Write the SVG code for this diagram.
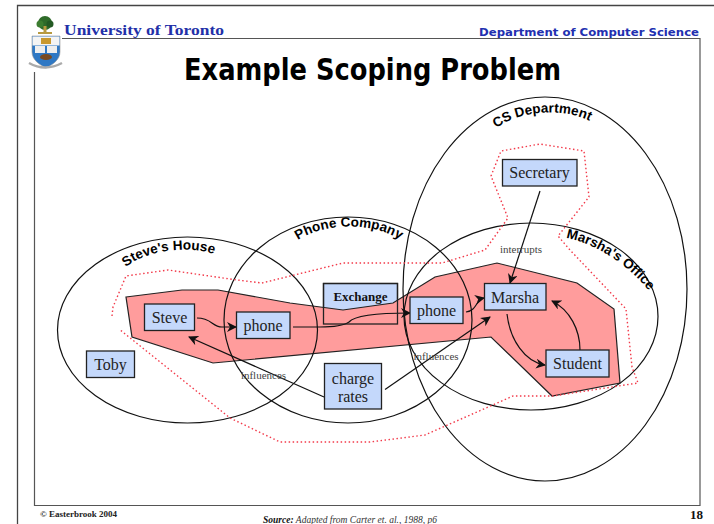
<svg xmlns="http://www.w3.org/2000/svg" xmlns:xlink="http://www.w3.org/1999/xlink" width="714" height="524" viewBox="0 0 714 524">
<style>
.frame{fill:none;stroke:#444;stroke-width:1.3}
.scope{fill:none;stroke:#111;stroke-width:1.2}
.box{fill:#c4d8fb;stroke:#222;stroke-width:1.3}
.label{font-family:"Liberation Serif",serif;font-size:16px;fill:#222;text-anchor:middle}
.small{font-family:"Liberation Serif",serif;font-size:11px;fill:#444;text-anchor:middle}
.arc{font-family:"Liberation Sans",sans-serif;font-size:13.5px;font-weight:bold;fill:#000}
.conn{fill:none;stroke:#111;stroke-width:1.2;marker-end:url(#arrow)}
</style>
<defs>
<marker id="arrow" viewBox="0 0 10 10" refX="9" refY="5" markerUnits="userSpaceOnUse" markerWidth="10" markerHeight="10" orient="auto"><path d="M0 0L10 5L0 10L3 5Z" fill="#111"/></marker>
<path id="p-steve" d="M126 267C150 247 205 243 230 262"/>
<path id="p-phone" d="M298 240C325 222 375 222 400 240"/>
<path id="p-marsha" d="M566 238C595 243 630 265 653 296"/>
<path id="p-cs" d="M496 128C525 108 570 108 595 124"/>
</defs>
<rect width="714" height="524" fill="#fff"/>
<g id="frame">
<path class="frame" d="M17.5 524V5.5H714"/>
<path d="M62 38.5H700V505.5H34.5V72" fill="none" stroke="#555" stroke-width="1.2"/>
</g>
<g id="logo">
<circle cx="45" cy="23" r="7" fill="#2f6b2a"/><circle cx="40" cy="24" r="3.5" fill="#3c7d30"/><circle cx="50" cy="24" r="3.5" fill="#245a24"/>
<rect x="43.500" y="26" width="3" height="7" fill="#b89a40"/><rect x="38" y="32" width="14" height="2" fill="#b89a40"/>
<path d="M32 36H60V52C60 60 52 65 46 68C40 65 32 60 32 52Z" fill="#2f78c4" stroke="#999" stroke-width=".6"/>
<rect x="32.500" y="36.500" width="27" height="9" fill="#f4f4f4"/><rect x="41" y="38" width="10" height="6" fill="#c9982e"/>
<rect x="35" y="46" width="10" height="7" fill="#eee"/><rect x="47" y="46" width="10" height="7" fill="#eee"/>
<ellipse cx="46" cy="57" rx="6" ry="3" fill="#7a4a20"/>
<path d="M29 63Q45 72 62 63" fill="none" stroke="#aaa" stroke-width="2.500"/>
</g>
<text id="university" x="64" y="35" font-family="Liberation Serif,serif" font-weight="bold" font-size="14.500" fill="#2230a8" textLength="160" lengthAdjust="spacingAndGlyphs">University of Toronto</text>
<text id="dept" x="479" y="36" font-family="DejaVu Sans,sans-serif" font-weight="bold" font-size="11px" fill="#2230b0" textLength="220" lengthAdjust="spacingAndGlyphs">Department of Computer Science</text>
<text id="title" x="184" y="80" font-family="DejaVu Sans,sans-serif" font-weight="bold" font-size="30px" fill="#000" textLength="377" lengthAdjust="spacingAndGlyphs">Example Scoping Problem</text>
<g id="node-exchange-fill"><rect class="box" x="323.500" y="283.500" width="74" height="40.500"/></g>
<polygon id="scope-shared" points="126,297 182,290 218,290 290,303 343,310 393,303 435,277 497,263 577,283 614,309 620,383 552,396 491,337 213,363 132,337" fill="#ff9c9c" stroke="#222" stroke-width="1.200"/>
<g id="scopes">
<g id="scope-steve"><ellipse class="scope" cx="187.500" cy="330" rx="130" ry="93"/><text class="arc"><textPath xlink:href="#p-steve" href="#p-steve">Steve's House</textPath></text></g>
<g id="scope-phone"><ellipse class="scope" cx="348" cy="320" rx="124" ry="103"/><text class="arc" font-size="12.5"><textPath href="#p-phone" xlink:href="#p-phone">Phone Company</textPath></text></g>
<g id="scope-marsha"><ellipse class="scope" cx="531" cy="316.500" rx="127" ry="93.500"/><text class="arc"><textPath href="#p-marsha" xlink:href="#p-marsha">Marsha's Office</textPath></text></g>
<g id="scope-cs"><ellipse class="scope" cx="545" cy="289" rx="142" ry="192"/><text class="arc"><textPath href="#p-cs" xlink:href="#p-cs">CS Department</textPath></text></g>
</g>
<path id="scope-dotted" d="M112 316L113 307L126 276L168 270L237 280L262 283L343 263L442 263L485 250L508 218L491 176L501 151L540 144L584 151L589 197L558 236L570 250L626 309L632 367L638 383L553 396L513 396L425 435L370 442L280 442L230 418L119 329" fill="none" stroke="#f23a4a" stroke-width="1.400" stroke-dasharray="1.500 2.500"/>
<g id="connectors">
<path class="conn" d="M197 318C212 318 212 327 222 327C226 327 230 327 236 327"/>
<path class="conn" d="M293 327H320C335 327 343 326 349 322C354 316 375 313 410 313"/>
<path class="conn" d="M466 312C478 310 475 300 484 298"/>
<path class="conn" d="M385 389.500L490 317"/>
<path class="conn" d="M324 397L189 337"/>
<path class="conn" d="M540 191L510 283"/>
<path class="conn" d="M507 314C510 340 525 362 545 365"/>
<path class="conn" d="M580 350C580 330 570 310 552 301"/>
</g>
<g id="node-steve"><rect class="box" x="144.500" y="304" width="50" height="26.500"/><text class="label" x="169.500" y="323">Steve</text></g>
<g id="node-phone1"><rect class="box" x="236.500" y="312" width="53.500" height="26.500"/><text class="label" x="263" y="331">phone</text></g>
<g id="node-toby"><rect class="box" x="86.500" y="351" width="48" height="26.500"/><text class="label" x="110.500" y="370">Toby</text></g>
<g id="node-exchange"><rect x="323.500" y="283.500" width="74" height="40.500" fill="none" stroke="#222" stroke-width="1.300"/><text x="360.500" y="301" font-family="Liberation Serif,serif" font-size="13px" font-weight="bold" fill="#111" text-anchor="middle">Exchange</text></g>
<g id="node-charge"><rect class="box" x="324.500" y="363.500" width="57" height="45.500"/><text class="label" x="353" y="384">charge</text><text class="label" x="353" y="402">rates</text></g>
<g id="node-phone2"><rect class="box" x="410" y="297" width="53" height="26.500"/><text class="label" x="436.500" y="316">phone</text></g>
<g id="node-marsha"><rect class="box" x="484.500" y="283.500" width="61.500" height="26.500"/><text class="label" x="515" y="303">Marsha</text></g>
<g id="node-student"><rect class="box" x="546" y="350" width="63" height="27"/><text class="label" x="577.500" y="369">Student</text></g>
<g id="node-secretary"><rect class="box" x="502.500" y="159.500" width="74.500" height="26.500"/><text class="label" x="539.500" y="178">Secretary</text></g>
<g id="edge-labels">
<text class="small" x="521" y="253">interrupts</text>
<text class="small" x="436" y="360">influences</text>
<text class="small" x="263.500" y="379">influences</text>
</g>
<g id="footer">
<text x="40" y="517" font-family="Liberation Serif,serif" font-size="9px" font-weight="bold" fill="#222">© Easterbrook 2004</text>
<text x="263" y="523" font-family="Liberation Serif,serif" font-size="9.500px" font-style="italic" fill="#333"><tspan font-weight="bold" fill="#111">Source:</tspan> Adapted from Carter et. al., 1988, p6</text>
<text x="690" y="519" font-family="Liberation Serif,serif" font-size="13px" font-weight="bold" fill="#111">18</text>
</g>
</svg>
